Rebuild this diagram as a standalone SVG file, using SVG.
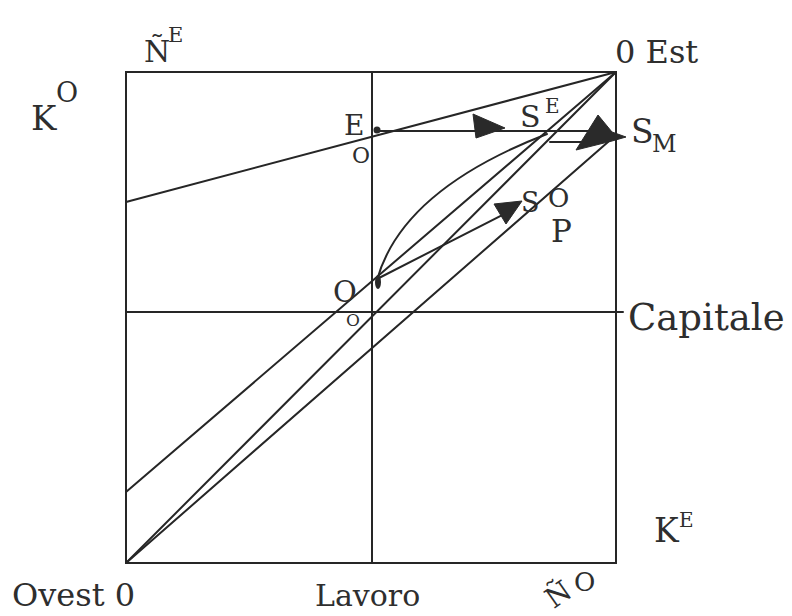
<svg xmlns="http://www.w3.org/2000/svg" width="792" height="616" viewBox="0 0 792 616">
<style>
.ln{stroke:#262626;stroke-width:2;fill:none;stroke-linecap:round}
.ah{fill:#2a2a2a;stroke:#2a2a2a;stroke-width:1;stroke-linejoin:round}
text{font-family:"DejaVu Serif","Liberation Serif",serif;fill:#2e2e2e}
</style>
<rect width="792" height="616" fill="#ffffff"/>
<g id="box">
<rect class="ln" x="126" y="72" width="490" height="491"/>
<line class="ln" x1="372" y1="72" x2="372" y2="563"/>
<line class="ln" x1="126" y1="312" x2="623" y2="312"/>
</g>
<g id="connectors">
<line class="ln" x1="126" y1="202" x2="616" y2="72"/>
<line class="ln" x1="126" y1="492" x2="616" y2="72"/>
<line class="ln" x1="126" y1="563" x2="616" y2="72"/>
<line class="ln" x1="126" y1="563" x2="616" y2="135"/>
<path class="ln" d="M377,280 Q402,190 547,134"/>
<line class="ln" x1="377" y1="279" x2="512" y2="210"/>
<line class="ln" x1="377" y1="131" x2="590" y2="131"/>
<line class="ln" x1="550" y1="142" x2="585" y2="142"/>
<polygon class="ah" points="473,114 476,138 505,128"/>
<polygon class="ah" points="576,150 598,115 612,132 626,137 612,141"/>
<polygon class="ah" points="494,204 522,201 506,224"/>
<circle cx="377" cy="130" r="3.5" fill="#2a2a2a"/>
<ellipse cx="378" cy="282" rx="3" ry="7" fill="#2a2a2a"/>
</g>
<g id="labels">
<g id="NE"><text x="144" y="62" font-size="30">Ñ</text><text x="168" y="42" font-size="21">E</text></g>
<g id="KO"><text x="31" y="130" font-size="34">K</text><text x="56" y="102" font-size="27">O</text></g>
<g id="OEst"><text x="615" y="63" font-size="32">0 Est</text></g>
<g id="E"><text x="344" y="135" font-size="28">E</text><text x="352" y="163" font-size="22">O</text></g>
<g id="SE"><text x="520" y="127" font-size="30">S</text><text x="545" y="113" font-size="20">E</text></g>
<g id="SM"><text x="631" y="143" font-size="33">S</text><text x="652" y="152" font-size="24">M</text></g>
<g id="SO"><text x="521" y="212" font-size="27">S</text><text x="548" y="207" font-size="26">O</text></g>
<g id="P"><text x="551" y="242" font-size="31">P</text></g>
<g id="Ocenter"><text x="333" y="302" font-size="29">O</text><text x="346" y="326" font-size="17">O</text></g>
<g id="Capitale"><text x="628" y="330" font-size="37">Capitale</text></g>
<g id="KE"><text x="654" y="542" font-size="33">K</text><text x="679" y="527" font-size="20">E</text></g>
<g id="Ovest"><text x="12" y="606" font-size="32">Ovest 0</text></g>
<g id="Lavoro"><text x="315" y="606" font-size="30">Lavoro</text></g>
<g id="NO"><text x="558" y="604" font-size="28" text-anchor="middle" transform="rotate(-35 558 594)">Ñ</text><text x="574" y="591" font-size="26">O</text></g>
</g>
</svg>
